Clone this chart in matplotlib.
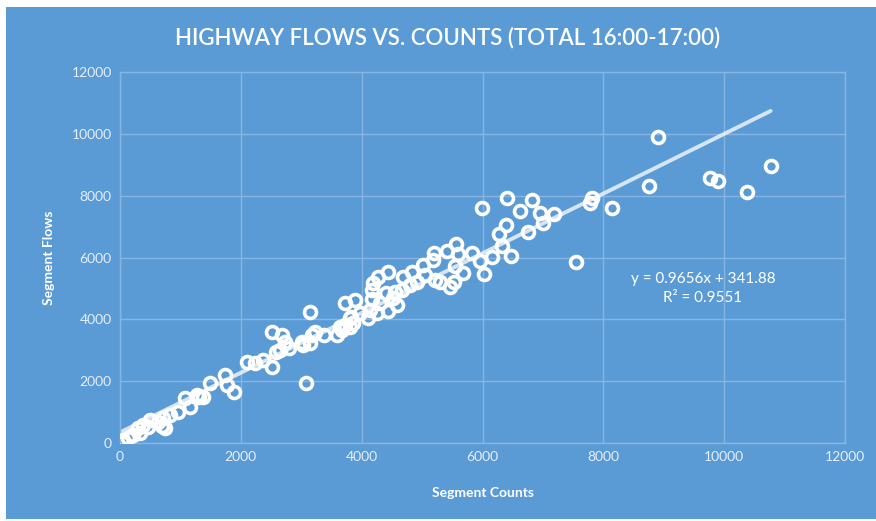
import numpy as np
import matplotlib
matplotlib.use("Agg")
import matplotlib.pyplot as plt
from matplotlib.patches import Rectangle

# Segment counts (x) and segment flows (y)
counts = [8910, 10770, 9765, 9890, 10380, 8760, 8150, 7780, 7820, 7540,
          7190, 7000, 6960, 6820, 6760, 6620, 6410, 6390, 6280, 5990,
          6480, 6320, 6150, 6020, 5960, 5820, 5670, 5590, 5560, 5530,
          5410, 5540, 5190, 5180, 5460, 5300, 5210, 5050, 5020, 4830,
          4690, 4660, 4800, 4910, 4440, 4270, 4190, 4170, 4550, 4520,
          4580, 4440, 4300, 4170, 4140, 4110, 3890, 3720, 3830, 3860,
          3720, 3670, 4410, 4250, 3970, 3810, 3810, 3640, 3590, 3370,
          3230, 3170, 3140, 3010, 3030, 3140, 2510, 2680, 2730, 2790,
          2650, 2590, 2370, 2230, 2100, 2510, 3080, 1740, 1770, 1880,
          1490, 1300, 1160, 1080, 965, 830, 715, 635, 500, 385,
          330, 300, 220, 140, 55, 30, 745, 1270, 1380, 690, 465]
flows = [9910, 8960, 8560, 8490, 8110, 8310, 7590, 7750, 7920, 5860,
         7420, 7120, 7440, 7850, 6830, 7500, 7940, 7060, 6770, 7590,
         6060, 6370, 6020, 5480, 5890, 6150, 5510, 6110, 6430, 5220,
         6200, 5730, 6140, 5920, 5060, 5220, 5270, 5430, 5760, 5540,
         5380, 4950, 5110, 5220, 5540, 5380, 5170, 4950, 4890, 4680,
         4460, 4280, 4520, 4650, 4300, 4050, 4630, 4520, 4090, 3870,
         3820, 3660, 4840, 4200, 4200, 4030, 3760, 3760, 3490, 3490,
         3600, 3490, 3230, 3280, 3170, 4230, 3600, 3490, 3280, 3060,
         3010, 2950, 2690, 2580, 2630, 2450, 1930, 2200, 1880, 1660,
         1930, 1500, 1170, 1450, 1010, 910, 800, 690, 745, 580,
         315, 475, 260, 150, 100, 40, 475, 1550, 1500, 550, 527]

# Excel linear trendline shown on the chart
slope = 0.9656
intercept = 341.88
r_squared = 0.9551

ticks = [0, 2000, 4000, 6000, 8000, 10000, 12000]

bg = "#5B9BD5"
grid_col = "#86B5E3"
txt_col = "#E6EEF8"

plt.rcParams["font.family"] = ["Lato", "DejaVu Sans"]

fig = plt.figure(figsize=(8.76, 5.21), dpi=100)
fig.patch.set_facecolor("white")
fig.patches.append(Rectangle((6 / 876, 2 / 521), 1, 512 / 521,
                             transform=fig.transFigure, facecolor=bg,
                             edgecolor="none", zorder=-10))

ax = fig.add_axes([0.137, 0.1497, 0.8276, 0.7121])
ax.set_facecolor(bg)
ax.set_xlim(0, 12000)
ax.set_ylim(0, 12000)
ax.set_xticks(ticks)
ax.set_yticks(ticks)
ax.grid(True, color=grid_col, linewidth=1)
ax.set_axisbelow(True)
for s in ax.spines.values():
    s.set_color(grid_col)
    s.set_linewidth(1)
ax.tick_params(length=0, colors=txt_col, labelsize=10, pad=6)

# scatter points as open circles
ax.plot(counts, flows, linestyle="none", marker="o", markersize=8.6,
        markerfacecolor="none", markeredgecolor="white",
        markeredgewidth=2.6, zorder=3)

# trend line over the data range
xs = np.array([min(counts), max(counts)])
ax.plot(xs, slope * xs + intercept, color="white", alpha=0.75,
        linewidth=2.8, solid_capstyle="round", zorder=2)

ax.text(9650, 5000, f"y = {slope}x + {intercept}\nR² = {r_squared}",
        color="white", fontsize=11, ha="center", va="center",
        linespacing=1.45)

ax.set_xlabel("Segment Counts", color="white", fontsize=10,
              fontweight="bold", labelpad=17)
ax.set_ylabel("Segment Flows", color="white", fontsize=10,
              fontweight="bold", labelpad=12)

fig.text(0.511, 0.927, "HIGHWAY FLOWS VS. COUNTS (TOTAL 16:00-17:00)",
         color="white", fontsize=16, fontweight="semibold",
         ha="center", va="center")

fig.savefig("out.png", dpi=100, facecolor=fig.get_facecolor())
